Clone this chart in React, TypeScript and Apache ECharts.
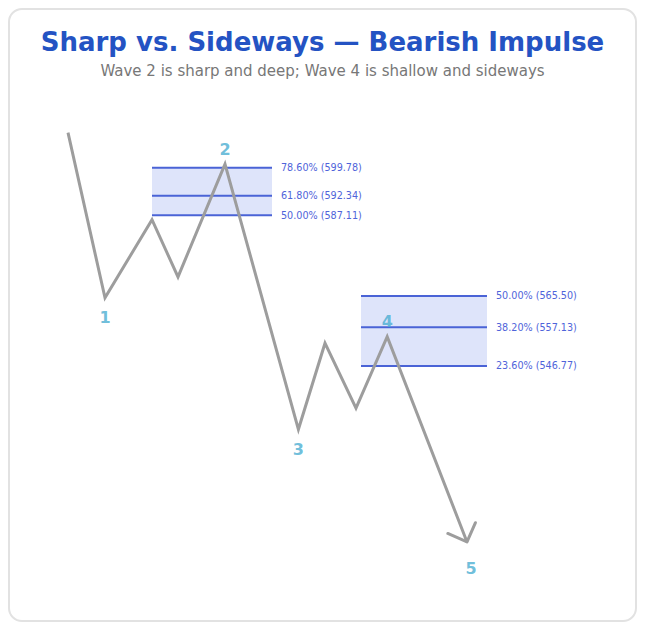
import React, { useEffect, useRef } from "react";
import * as echarts from "echarts";

// Wave path: bar index (t) and price
const barIndex = [0, 9.25, 21, 27.5, 39.25, 57.6, 64.25, 72, 79.8, 99.75];
const prices = [609.2, 565.0, 585.9, 570.6, 600.8, 529.8, 552.85, 535.45, 554.6, 499.65];
const waveLabels = ["", "1", "", "", "2", "3", "", "", "4", "5"];

// Fibonacci retracement zones
const zone2Range = [21, 51];
const zone2Ratios = ["78.60%", "61.80%", "50.00%"];
const zone2Levels = [599.78, 592.34, 587.11];
const zone4Range = [73.25, 104.75];
const zone4Ratios = ["50.00%", "38.20%", "23.60%"];
const zone4Levels = [565.5, 557.13, 546.77];

const TITLE = "Sharp vs. Sideways — Bearish Impulse";
const SUBTITLE = "Wave 2 is sharp and deep; Wave 4 is shallow and sideways";

export default function App() {
  const ref = useRef<HTMLDivElement>(null);

  useEffect(() => {
    if (!ref.current) return;
    const chart = echarts.init(ref.current, null, { renderer: "svg" });

    const linePts = barIndex.map((t, i) => [t, prices[i]]);
    const zones = [
      { range: zone2Range, ratios: zone2Ratios, levels: zone2Levels },
      { range: zone4Range, ratios: zone4Ratios, levels: zone4Levels },
    ];
    const zoneData = zones.map((z, i) => [i]);

    const labelData = barIndex
      .map((t, i) => {
        if (!waveLabels[i]) return null;
        const prev = i > 0 ? prices[i - 1] : prices[i + 1];
        const next = i < prices.length - 1 ? prices[i + 1] : prices[i - 1];
        const isHigh = prices[i] > prev && prices[i] > next;
        const isLast = i === prices.length - 1;
        return {
          value: [t, prices[i]],
          label: {
            show: true,
            formatter: waveLabels[i],
            position: isHigh ? "top" : "bottom",
            distance: isHigh ? 7 : 12,
            offset: isLast ? [4, 7] : [0, 0],
          },
        };
      })
      .filter(Boolean);

    const option: any = {
      animation: false,
      title: [
        {
          text: TITLE,
          left: "center",
          top: 14,
          textStyle: {
            fontFamily: "DejaVu Sans",
            fontSize: 26,
            fontWeight: "bold",
            color: "#2453c3",
          },
        },
        {
          text: SUBTITLE,
          left: "center",
          top: 48,
          textStyle: {
            fontFamily: "DejaVu Sans",
            fontSize: 15,
            fontWeight: "normal",
            color: "#777777",
          },
        },
      ],
      grid: { left: 58, top: 101, height: 467, width: 560 },
      xAxis: { type: "value", min: 0, max: 140, show: false },
      yAxis: { type: "value", min: 490, max: 615, show: false },
      series: [
        {
          type: "custom",
          coordinateSystem: "cartesian2d",
          z: 2,
          data: zoneData,
          renderItem: (params: any, api: any) => {
            const z = zones[api.value(0)];
            const top = Math.max(...z.levels);
            const bot = Math.min(...z.levels);
            const p0 = api.coord([z.range[0], top]);
            const p1 = api.coord([z.range[1], bot]);
            const children: any[] = [
              {
                type: "rect",
                shape: { x: p0[0], y: p0[1], width: p1[0] - p0[0], height: p1[1] - p0[1] },
                style: { fill: "rgba(90,120,230,0.2)" },
              },
            ];
            z.levels.forEach((lv, k) => {
              const a = api.coord([z.range[0], lv]);
              const b = api.coord([z.range[1], lv]);
              children.push({
                type: "line",
                shape: { x1: a[0], y1: a[1], x2: b[0], y2: b[1] },
                style: { stroke: "#4a63d6", lineWidth: 2 },
                z2: 5,
              });
              children.push({
                type: "text",
                x: b[0] + 9,
                y: b[1],
                style: {
                  text: `${z.ratios[k]} (${lv.toFixed(2)})`,
                  fill: "#4f64da",
                  font: "10.7px 'DejaVu Sans Condensed', 'DejaVu Sans'",
                  textVerticalAlign: "middle",
                  textAlign: "left",
                },
              });
            });
            return { type: "group", children };
          },
        },
        {
          type: "line",
          data: linePts,
          z: 3,
          symbol: "none",
          lineStyle: { color: "#9d9d9d", width: 3, join: "miter" },
        },
        {
          type: "custom",
          coordinateSystem: "cartesian2d",
          z: 3,
          data: [[0]],
          renderItem: (params: any, api: any) => {
            const n = barIndex.length;
            const a = api.coord([barIndex[n - 2], prices[n - 2]]);
            const b = api.coord([barIndex[n - 1], prices[n - 1]]);
            const dx = a[0] - b[0];
            const dy = a[1] - b[1];
            const len = Math.hypot(dx, dy);
            const ux = dx / len;
            const uy = dy / len;
            const L = 21;
            const ang = Math.PI / 4;
            const rot = (s: number) => [
              b[0] + L * (ux * Math.cos(s) - uy * Math.sin(s)),
              b[1] + L * (ux * Math.sin(s) + uy * Math.cos(s)),
            ];
            return {
              type: "polyline",
              shape: { points: [rot(ang), b, rot(-ang)] },
              style: { stroke: "#9d9d9d", lineWidth: 3, fill: "none", lineCap: "round", lineJoin: "round" },
            };
          },
        },
        {
          type: "scatter",
          z: 4,
          symbolSize: 0,
          data: labelData,
          label: {
            color: "#4aaed2",
            fontSize: 16,
            fontFamily: "DejaVu Sans",
            fontWeight: "bold",
          },
        },
      ],
    };

    chart.setOption(option);
    return () => chart.dispose();
  }, []);

  return (
    <div
      style={{
        width: 629,
        height: 614,
        boxSizing: "border-box",
        border: "2px solid #e2e2e2",
        borderRadius: 14,
        background: "#fff",
        overflow: "hidden",
      }}
    >
      <div ref={ref} style={{ width: 625, height: 610 }} />
    </div>
  );
}
